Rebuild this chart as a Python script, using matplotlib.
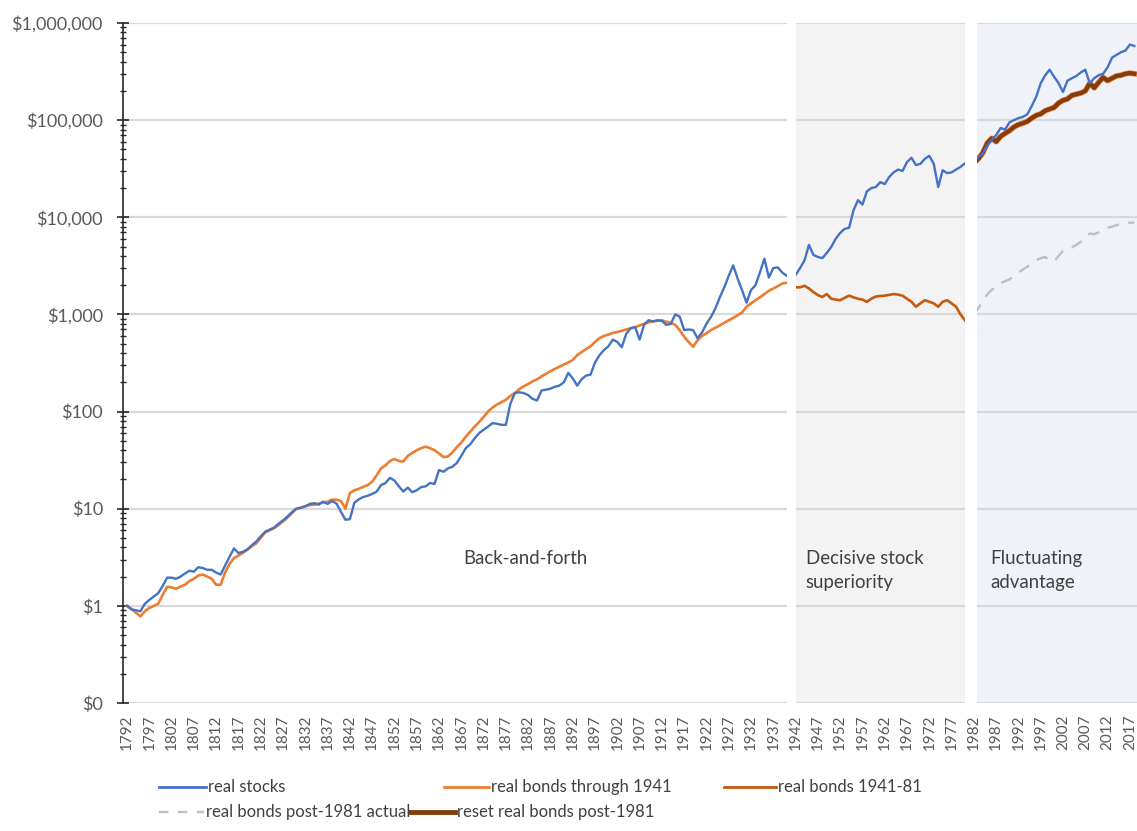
import matplotlib.pyplot as plt
from matplotlib.lines import Line2D
from matplotlib.ticker import FuncFormatter, LogLocator, FixedLocator

plt.rcParams['font.family'] = ['Lato', 'DejaVu Sans']

# ---- real stocks, growth of $1 ----
stock_years = list(range(1792, 1942))
stock_vals = [
    1.0, 0.92, 0.9, 0.88, 1.05, 1.15, 1.25, 1.35, 1.6, 1.95,          # 1792-1801
    1.95, 1.9, 2.0, 2.15, 2.3, 2.25, 2.5, 2.45, 2.35, 2.35,           # 1802-1811
    2.2, 2.1, 2.6, 3.2, 3.9, 3.5, 3.6, 3.8, 4.2, 4.6,                 # 1812-1821
    5.2, 5.8, 6.1, 6.4, 7.0, 7.6, 8.3, 9.2, 10.0, 10.2,               # 1822-1831
    10.6, 11.2, 11.4, 11.0, 11.8, 11.2, 12.0, 11.3, 9.3, 7.7,         # 1832-1841
    7.8, 11.5, 12.5, 13.2, 13.6, 14.2, 15.0, 17.5, 18.4, 20.8,        # 1842-1851
    19.5, 17.0, 15.0, 16.5, 14.8, 15.5, 16.7, 17.0, 18.4, 18.0,       # 1852-1861
    25.0, 24.0, 26.0, 27.0, 29.6, 35.0, 42.0, 46.0, 53.0, 60.0,       # 1862-1871
    65.0, 70.0, 76.0, 75.0, 73.0, 73.0, 120, 155, 158, 155,           # 1872-1881
    148, 135, 130, 165, 168, 172, 180, 185, 200, 250,                 # 1882-1891
    220, 185, 215, 235, 240, 320, 380, 430, 470, 550,                 # 1892-1901
    520, 460, 630, 720, 740, 550, 780, 870, 850, 870,                 # 1902-1911
    860, 780, 800, 1000, 950, 690, 700, 690, 570, 650,                # 1912-1921
    800, 940, 1150, 1500, 1900, 2500, 3200, 2340, 1770, 1320,         # 1922-1931
    1780, 2000, 2700, 3750, 2400, 3000, 3050, 2700, 2500, 2450,       # 1932-1941
]

stock_mid_years = list(range(1942, 1982))
stock_mid_vals = [
    2540, 3000, 3600, 5200, 4100, 3900, 3800, 4300, 4950, 6000,
    6900, 7600, 7800, 11800, 15000, 13500, 18500, 20000, 20500, 23000,
    22000, 26000, 29000, 31000, 30000, 37000, 41000, 34500, 35500, 40000,
    43000, 35500, 20500, 30500, 28500, 29000, 31000, 33000, 36000, 34000,
]

stock_late_years = list(range(1982, 2019))
stock_late_vals = [
    36000, 42000, 45000, 55000, 63000, 70000, 83000, 80000, 95000, 100000,
    105000, 108000, 115000, 140000, 175000, 240000, 290000, 330000, 280000, 240000,
    195000, 255000, 270000, 285000, 310000, 330000, 240000, 270000, 290000, 300000,
    350000, 440000, 470000, 500000, 520000, 600000, 580000,
]

# ---- real bonds ----
bond_years = list(range(1792, 1942))
bond_vals = [
    1.0, 0.93, 0.85, 0.78, 0.88, 0.95, 1.0, 1.05, 1.3, 1.57,
    1.55, 1.5, 1.58, 1.65, 1.8, 1.9, 2.05, 2.1, 2.0, 1.9,
    1.65, 1.65, 2.2, 2.7, 3.1, 3.3, 3.5, 3.8, 4.1, 4.4,
    5.0, 5.7, 6.0, 6.3, 6.8, 7.4, 8.1, 9.0, 10.0, 10.3,
    10.6, 10.9, 11.0, 11.3, 11.6, 11.8, 12.4, 12.4, 12.0, 10.0,
    14.5, 15.5, 16.0, 16.8, 17.5, 19.0, 22.0, 26.0, 28.0, 31.0,
    32.5, 31.0, 30.6, 35.0, 37.5, 40.0, 42.0, 43.5, 42.0, 40.0,
    37.0, 34.0, 34.5, 38.0, 43.0, 48.0, 55.0, 62.0, 70.0, 78.0,
    88.0, 100, 110, 118, 125, 132, 145, 155, 170, 182,
    192, 205, 215, 230, 245, 260, 275, 290, 305, 320,
    340, 380, 410, 440, 470, 520, 570, 600, 620, 645,
    660, 680, 700, 720, 740, 770, 800, 830, 845, 860,
    870, 840, 820, 780, 690, 590, 520, 465, 540, 600,
    640, 690, 730, 770, 820, 870, 920, 980, 1050, 1200,
    1300, 1400, 1500, 1620, 1750, 1850, 1950, 2080, 2120, 2150,
]

bond_mid_years = list(range(1942, 1981))
bond_mid_vals = [
    1900, 1900, 1970, 1850, 1700, 1580, 1510, 1620, 1450, 1420,
    1400, 1480, 1560, 1500, 1450, 1420, 1350, 1450, 1530, 1550,
    1560, 1590, 1620, 1600, 1560, 1450, 1350, 1200, 1300, 1400,
    1350, 1300, 1200, 1350, 1400, 1300, 1200, 1000, 870,
]

bond_actual_years = list(range(1982, 2019))
bond_actual_vals = [
    1000, 1150, 1400, 1600, 1800, 1900, 2100, 2200, 2300, 2500,
    2700, 2900, 3100, 3400, 3600, 3800, 3900, 3600, 3500, 4000,
    4500, 4800, 4900, 5200, 5600, 6300, 6800, 6700, 7000, 7300,
    7800, 8000, 8300, 8500, 8700, 8800, 8800,
]

bond_reset_years = list(range(1982, 2019))
bond_reset_vals = [
    36000, 40000, 46000, 58000, 65000, 60000, 68000, 73000, 78000, 85000,
    90000, 93000, 97000, 105000, 112000, 116000, 125000, 130000, 135000, 150000,
    160000, 165000, 180000, 185000, 190000, 200000, 240000, 215000, 245000, 275000,
    255000, 270000, 285000, 290000, 300000, 305000, 300000,
]

c_stock = '#4472C4'
c_bond = '#ED7D31'
c_bond_mid = '#C55A11'
c_actual = '#BFBFBF'
c_reset = '#843C0C'

fig = plt.figure(figsize=(11.37, 8.31), dpi=100)
ax = fig.add_axes([123 / 1137, 1 - 703 / 831, 1 - 123 / 1137, 680 / 831])

ax.set_yscale('log')
ax.set_ylim(0.1, 1e6)
ax.set_xlim(1791.1, 2018.6)

# era shading, with white separators on top of everything drawn in the plot
ax.axvspan(1942.05, 1980.0, color='#F3F3F3', zorder=0, lw=0)
ax.axvspan(1982.7, 2030, color='#F0F2FA', zorder=0, lw=0)
ax.axvspan(1940.0, 1942.05, color='white', zorder=3, lw=0)
ax.axvspan(1980.0, 1982.7, color='white', zorder=3, lw=0)

ax.plot(stock_years, stock_vals, color=c_stock, lw=1.7, zorder=2)
ax.plot(stock_mid_years, stock_mid_vals, color=c_stock, lw=1.7, zorder=2)
ax.plot(bond_years, bond_vals, color=c_bond, lw=1.9, zorder=1.9)
ax.plot(bond_mid_years, bond_mid_vals, color=c_bond_mid, lw=1.9, zorder=2)
ax.plot(bond_actual_years, bond_actual_vals, color=c_actual, lw=1.7,
        ls=(0, (5, 4)), zorder=2)
ax.plot(bond_reset_years, bond_reset_vals, color=c_bond, lw=4.0, zorder=1.8)
ax.plot(bond_reset_years, bond_reset_vals, color=c_reset, lw=3.0, zorder=1.9)
ax.plot(stock_late_years, stock_late_vals, color=c_stock, lw=1.7, zorder=2)

# axes styling
ax.set_axisbelow(True)
ax.yaxis.grid(True, which='major', color='#D9D9D9', lw=1.6)
ax.xaxis.grid(False)
for s in ['top', 'right', 'bottom']:
    ax.spines[s].set_visible(False)
ax.spines['left'].set_color('#262626')
ax.spines['left'].set_linewidth(1.2)

ax.yaxis.set_major_locator(LogLocator(base=10, numticks=20))
ax.yaxis.set_minor_locator(LogLocator(base=10, subs=range(2, 10), numticks=20))
ax.yaxis.set_major_formatter(FuncFormatter(
    lambda v, p: '$0' if v < 1 else '${:,.0f}'.format(v)))
ax.tick_params(axis='y', which='major', direction='inout', length=9, width=1.2,
               color='#262626', labelsize=13, labelcolor='#595959', pad=10)
ax.tick_params(axis='y', which='minor', direction='inout', length=4, width=1.0,
               color='#262626')

ax.xaxis.set_major_locator(FixedLocator(range(1792, 2018, 5)))
ax.set_xticklabels([str(y) for y in range(1792, 2018, 5)], rotation=90)
ax.tick_params(axis='x', length=0, labelsize=11, labelcolor='#595959', pad=8)

# era labels
lab = dict(fontsize=13.4, color='#404040', zorder=4, va='center')
ax.text(1881.3, 3.1, 'Back-and-forth', ha='center', **lab)
ax.text(1944.3, 3.1, 'Decisive stock', ha='left', **lab)
ax.text(1944.3, 1.75, 'superiority', ha='left', **lab)
ax.text(1985.6, 3.1, 'Fluctuating', ha='left', **lab)
ax.text(1985.6, 1.75, 'advantage', ha='left', **lab)

# legend drawn in figure pixels
W, H = 1137, 831


def legend_item(x0, x1, y, label, **line_kw):
    fig.add_artist(Line2D([x0 / W, x1 / W], [1 - y / H, 1 - y / H], **line_kw))
    fig.text((x1 + 2) / W, 1 - y / H, label, ha='left', va='center',
             fontsize=12, color='#404040')


legend_item(159, 206, 787, 'real stocks', color=c_stock, lw=2.0)
legend_item(444, 489, 787, 'real bonds through 1941', color=c_bond, lw=2.0)
legend_item(724, 776, 787, 'real bonds 1941-81', color=c_bond_mid, lw=2.0)
legend_item(159, 204, 812, 'real bonds post-1981 actual', color=c_actual,
            lw=1.7, ls=(0, (4, 4)))
legend_item(410, 455, 812, 'reset real bonds post-1981', color=c_reset, lw=3.5)

plt.savefig('out.png', dpi=100)
